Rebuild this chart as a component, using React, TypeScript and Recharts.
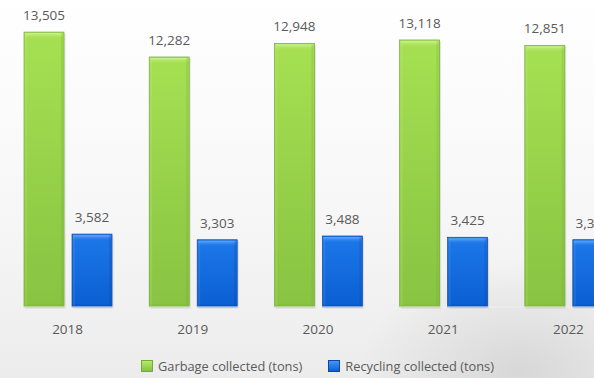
import { BarChart, Bar, XAxis, YAxis, LabelList } from "recharts";

const years = ["2018", "2019", "2020", "2021", "2022"];
const garbageTons = [13505, 12282, 12948, 13118, 12851];
const recyclingTons = [3582, 3303, 3488, 3425, 3306];

const chartData = years.map((year, i) => ({
  year,
  garbage: garbageTons[i],
  recycling: recyclingTons[i],
}));

const FONT = "'Open Sans', 'Noto Sans', sans-serif";

// Excel-style bevelled bar
const BevelBar = (kind: "green" | "blue") => (props: any) => {
  const { x, y, width, height } = props;
  if (!height || height <= 0) return null;
  const id = kind;
  const edge = kind === "green" ? "#76a83a" : "#0d45a8";
  const hi = kind === "green" ? "#c4ee80" : "#5aa3f7";
  return (
    <g>
      <rect x={x + 1.5} y={y + 1.5} width={width} height={height} fill="#000" opacity={0.1} />
      <rect x={x} y={y} width={width} height={height} fill={`url(#body-${id})`} stroke={edge} strokeWidth={0.7} />
      <rect x={x + 1} y={y + 1} width={width - 2} height={6} fill={`url(#top-${id})`} />
      <rect x={x + 1} y={y + 1} width={2} height={height - 2} fill={hi} opacity={0.2} />
      <rect x={x + width - 3} y={y + 1} width={2} height={height - 2} fill={edge} opacity={0.25} />
      <rect x={x + 1} y={y + height - 2.5} width={width - 2} height={1.5} fill={edge} opacity={0.3} />
    </g>
  );
};

const GreenBar = BevelBar("green");
const BlueBar = BevelBar("blue");

const fmt = (v: number) => v.toLocaleString("en-US");

export default function App() {
  return (
    <div
      style={{
        position: "fixed",
        left: 0,
        top: 0,
        width: 594,
        height: 378,
        overflow: "hidden",
        background:
          "radial-gradient(ellipse 160px 110px at 520px 370px, rgba(190,190,190,0.45), rgba(255,255,255,0) 100%), linear-gradient(#ffffff 0%, #f7f7f7 55%, #ececec 100%)",
        fontFamily: FONT,
      }}
    >
      <BarChart
        width={632}
        height={378}
        data={chartData}
        margin={{ top: 22, right: 1, left: 5, bottom: 41 }}
        barSize={40}
        barGap={8}
      >
        <defs>
          <linearGradient id="body-green" x1="0" y1="0" x2="0" y2="1">
            <stop offset="0%" stopColor="#a6e052" />
            <stop offset="100%" stopColor="#88c342" />
          </linearGradient>
          <linearGradient id="body-blue" x1="0" y1="0" x2="0" y2="1">
            <stop offset="0%" stopColor="#1d78ea" />
            <stop offset="100%" stopColor="#0a5fd2" />
          </linearGradient>
          <linearGradient id="top-green" x1="0" y1="0" x2="0" y2="1">
            <stop offset="0%" stopColor="#d2f59a" stopOpacity={0.9} />
            <stop offset="100%" stopColor="#a6e052" stopOpacity={0} />
          </linearGradient>
          <linearGradient id="top-blue" x1="0" y1="0" x2="0" y2="1">
            <stop offset="0%" stopColor="#6cb0fa" stopOpacity={0.9} />
            <stop offset="100%" stopColor="#1d78ea" stopOpacity={0} />
          </linearGradient>
        </defs>
        <XAxis
          dataKey="year"
          axisLine={{ stroke: "#efefef" }}
          tickLine={false}
          tickMargin={11}
          tick={{ fontSize: 13.5, fill: "#5a5a5a", fontFamily: FONT }}
          height={30}
        />
        <YAxis hide domain={[0, 14000]} />
        <Bar dataKey="garbage" shape={GreenBar} isAnimationActive={false}>
          <LabelList
            dataKey="garbage"
            position="top"
            offset={12}
            formatter={(v: number) => fmt(v)}
            fontSize={13.5}
            fill="#5a5a5a"
            fontFamily={FONT}
          />
        </Bar>
        <Bar dataKey="recycling" shape={BlueBar} isAnimationActive={false}>
          <LabelList
            dataKey="recycling"
            position="top"
            offset={12}
            formatter={(v: number) => fmt(v)}
            fontSize={13.5}
            fill="#5a5a5a"
            fontFamily={FONT}
          />
        </Bar>
      </BarChart>
      <div
        style={{
          position: "absolute",
          left: 141,
          top: 357,
          display: "flex",
          alignItems: "center",
          fontSize: 12.8,
          color: "#5a5a5a",
          whiteSpace: "nowrap",
        }}
      >
        <span style={{ width: 10, height: 10, background: "linear-gradient(#b4ea6a, #86c040)", border: "1px solid #76a83a", marginRight: 5 }} />
        <span>Garbage collected (tons)</span>
        <span style={{ width: 10, height: 10, background: "linear-gradient(#4a95f2, #0a5fd2)", border: "1px solid #0d45a8", marginLeft: 26, marginRight: 5 }} />
        <span>Recycling collected (tons)</span>
      </div>
    </div>
  );
}
